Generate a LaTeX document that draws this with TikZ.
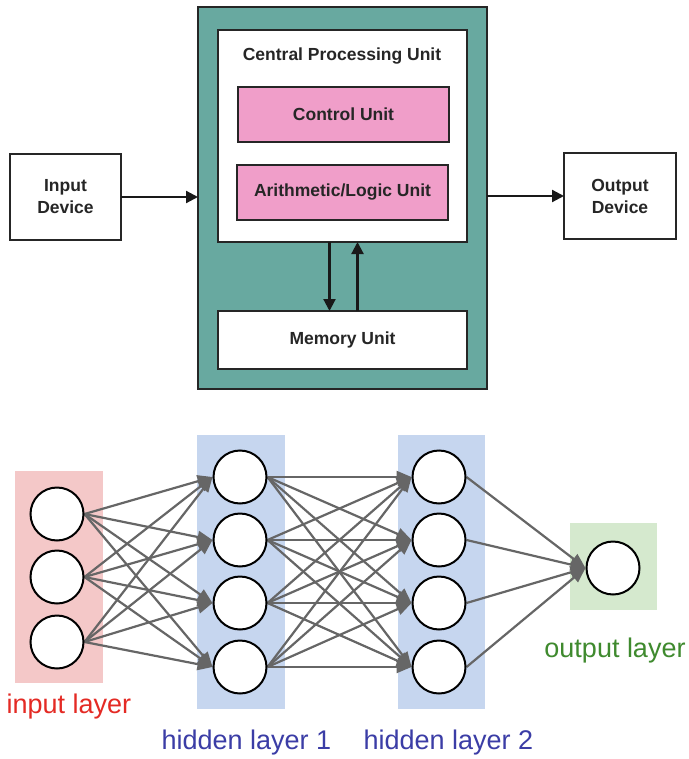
\documentclass[tikz,border=0pt]{standalone}
\usepackage{fontspec}
\setmainfont{Liberation Sans}
\usetikzlibrary{arrows.meta}
\pgfdeclarelayer{bands}
\pgfdeclarelayer{links}
\pgfsetlayers{bands,links,main}
\definecolor{tealbg}{HTML}{68A9A0}
\definecolor{unitpink}{HTML}{F09EC9}
\definecolor{inbg}{HTML}{F4C8C8}
\definecolor{hidbg}{HTML}{C6D6EF}
\definecolor{outbg}{HTML}{D5E9CE}
\definecolor{edgegray}{HTML}{666666}
\definecolor{lblred}{HTML}{E42A24}
\definecolor{lblblue}{HTML}{3B3DA6}
\definecolor{lblgreen}{HTML}{3F8A2E}
\tikzset{
  box/.style={draw=black!85, line width=2pt, anchor=north west, inner sep=0pt, outer sep=0pt},
  lbl/.style={font=\bfseries\fontsize{17.5}{22}\selectfont, align=center, text=black!85},
  arr/.style={line width=2.2pt, draw=black!90, -{Triangle[length=12pt,width=12pt]}},
  neuron/.style={circle, draw=black, line width=2pt, fill=white, minimum size=53pt, inner sep=0pt},
  syn/.style={draw=edgegray, line width=2.2pt, -{Triangle[length=15pt,width=12pt]}},
  layer/.style={font=\fontsize{27}{30}\selectfont}
}
\begin{document}
\begin{tikzpicture}[x=1pt,y=-1pt]
\begin{pgfonlayer}{bands}
\useasboundingbox[fill=white] (0,0) rectangle (686,759);
\end{pgfonlayer}

% --- computer architecture block diagram ---
\node[box, fill=tealbg, minimum width=289pt, minimum height=382pt] (sys) at (198,7) {};
\node[box, fill=white, minimum width=249pt, minimum height=212pt] (cpu) at (218,30) {};
\node[lbl] (cputitle) at (342,56) {Central Processing Unit};
\node[box, fill=unitpink, minimum width=211pt, minimum height=55pt] (cu) at (238,87) {};
\node[lbl] (cutext) at (cu.center) {Control Unit};
\node[box, fill=unitpink, minimum width=211pt, minimum height=55pt] (alu) at (237,165) {};
\node[lbl] (alutext) at (alu.center) {Arithmetic/Logic Unit};
\node[box, fill=white, minimum width=249pt, minimum height=58pt] (mem) at (218,311) {};
\node[lbl] (memtext) at (mem.center) {Memory Unit};
\node[box, fill=white, minimum width=111pt, minimum height=86pt] (in) at (10,154) {};
\node[lbl] (intext) at (in.center) {Input\\Device};
\node[box, fill=white, minimum width=112pt, minimum height=86pt] (out) at (564,153) {};
\node[lbl] (outtext) at (out.center) {Output\\Device};

\draw[arr] (in.east) -- (in.east -| sys.west);
\draw[arr] (out.west -| sys.east) -- (out.west);
\draw[arr] ([xshift=-13pt]cpu.south) -- ([xshift=-13pt]mem.north);
\draw[arr] ([xshift=15pt]mem.north) -- ([xshift=15pt]cpu.south);

% --- neural network ---
\begin{pgfonlayer}{bands}
\fill[inbg] (15,471) rectangle (103,683);
\fill[hidbg] (197,435) rectangle (285,709);
\fill[hidbg] (398,435) rectangle (485,709);
\fill[outbg] (570,523) rectangle (657,610);
\end{pgfonlayer}

\foreach \n/\y in {1/514,2/577,3/642}
  \node[neuron] (i\n) at (57,\y) {};
\foreach \n/\y in {1/477,2/540,3/603,4/667}{
  \node[neuron] (h\n) at (240,\y) {};
  \node[neuron] (g\n) at (439,\y) {};
}
\node[neuron] (o) at (613,568) {};

% weighted connections, from the east side of one layer to the west side of the next
\begin{pgfonlayer}{links}
\foreach \a in {1,2,3}
  \foreach \b in {1,2,3,4}
    \draw[syn] (i\a.east) -- (h\b.west);
\foreach \a in {1,2,3,4}
  \foreach \b in {1,2,3,4}
    \draw[syn] (h\a.east) -- (g\b.west);
\foreach \a in {1,2,3,4}
  \draw[syn] (g\a.east) -- (o.west);
\end{pgfonlayer}

\node[layer, text=lblred] (inlbl) at (69,707) {input layer};
\node[layer, text=lblblue] (h1lbl) at (246.5,743) {hidden layer 1};
\node[layer, text=lblblue] (h2lbl) at (448.5,743) {hidden layer 2};
\node[layer, text=lblgreen] (outlbl) at (615,651) {output layer};
\end{tikzpicture}
\end{document}
